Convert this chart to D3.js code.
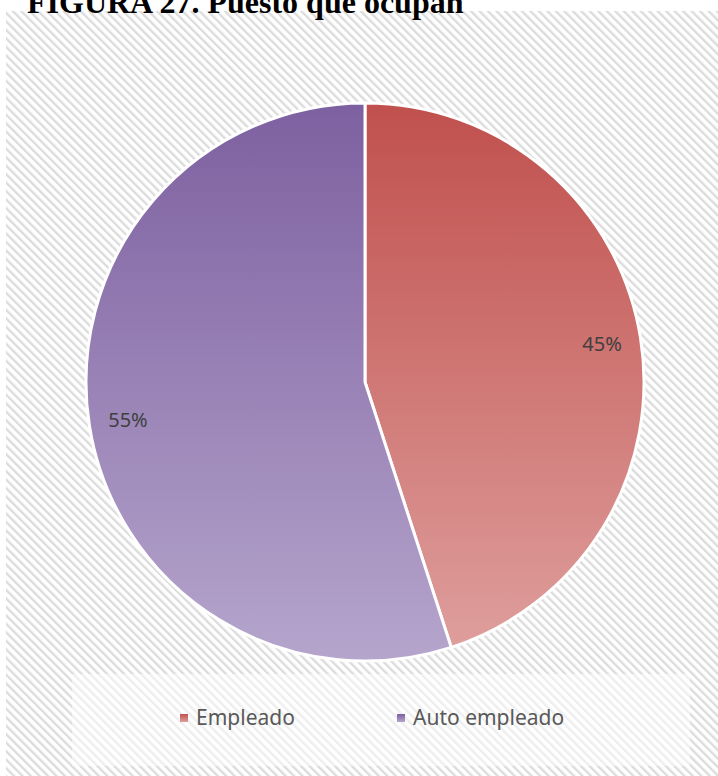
<!DOCTYPE html>
<html>
<head>
<meta charset="utf-8">
<script src="https://cdn.jsdelivr.net/npm/d3@7"></script>
<style>
  html, body { margin: 0; padding: 0; background: #ffffff; overflow: hidden; }
  svg { display: block; }
</style>
</head>
<body>
<script>
// Puesto que ocupan: share of respondents by job type
const categories = ["Empleado", "Auto empleado"];
const values = [45, 55];
const labels = ["45%", "55%"];
const titleText = "FIGURA 27. Puesto que ocupan";

const W = 718, H = 776;
const svg = d3.select("body").append("svg").attr("width", W).attr("height", H);
const defs = svg.append("defs");

// diagonal hatch used for the chart area background
const pat = defs.append("pattern")
  .attr("id", "hatch")
  .attr("patternUnits", "userSpaceOnUse")
  .attr("width", 6).attr("height", 6)
  .attr("patternTransform", "rotate(-45)");
pat.append("rect").attr("width", 6).attr("height", 6).attr("fill", "#ffffff");
pat.append("rect").attr("x", 0).attr("y", 0).attr("width", 2.4).attr("height", 6).attr("fill", "#dcdcdc");

// vertical gradients for the slices and legend keys
const gradStops = [
  { id: "g0", top: "#c0504d", bottom: "#de9e9c" },
  { id: "g1", top: "#7d60a0", bottom: "#b5a5cc" }
];
gradStops.forEach(g => {
  const lg = defs.append("linearGradient").attr("id", g.id)
    .attr("x1", 0).attr("y1", 0).attr("x2", 0).attr("y2", 1);
  lg.append("stop").attr("offset", "0%").attr("stop-color", g.top);
  lg.append("stop").attr("offset", "100%").attr("stop-color", g.bottom);
});

// chart area
svg.append("rect").attr("x", 6).attr("y", 11).attr("width", W - 6).attr("height", H - 11)
  .attr("fill", "url(#hatch)");

// title
svg.append("text")
  .attr("x", 27).attr("y", 13)
  .attr("font-family", "'Liberation Serif', 'Times New Roman', serif")
  .attr("font-weight", "bold")
  .attr("font-size", 32)
  .attr("fill", "#000")
  .text(titleText);

// pie
const cx = 365, cy = 382, R = 279;
const color = d3.scaleOrdinal().domain(categories).range(gradStops.map(g => `url(#${g.id})`));
const pie = d3.pie().sort(null).value(d => d.value);
const data = categories.map((c, i) => ({ name: c, value: values[i], label: labels[i] }));
const arcs = pie(data);
const arc = d3.arc().innerRadius(0).outerRadius(R);
const labelArc = d3.arc().innerRadius(240).outerRadius(240);

const g = svg.append("g").attr("transform", `translate(${cx},${cy})`);
g.selectAll("path").data(arcs).join("path")
  .attr("d", arc)
  .attr("fill", d => color(d.data.name))
  .attr("stroke", "#ffffff")
  .attr("stroke-width", 3)
  .attr("stroke-linejoin", "round");

g.selectAll("text.lbl").data(arcs).join("text")
  .attr("class", "lbl")
  .attr("transform", d => `translate(${labelArc.centroid(d)})`)
  .attr("text-anchor", "middle")
  .attr("dy", "0.35em")
  .attr("font-family", "'Noto Sans', 'Open Sans', sans-serif")
  .attr("font-size", 20)
  .attr("fill", "#404040")
  .text(d => d.data.label);

// legend
svg.append("rect").attr("x", 72).attr("y", 674).attr("width", 618).attr("height", 92)
  .attr("fill", "#ffffff").attr("fill-opacity", 0.5);

const legendX = [180, 397];
const lg = svg.append("g");
const items = lg.selectAll("g").data(data).join("g")
  .attr("transform", (d, i) => `translate(${legendX[i]},714)`);
items.append("rect").attr("width", 8).attr("height", 8)
  .attr("fill", d => color(d.name));
items.append("text").attr("x", 16).attr("y", 4).attr("dy", "0.35em")
  .attr("font-family", "'Noto Sans', 'Open Sans', sans-serif")
  .attr("font-size", 21)
  .attr("fill", "#595959")
  .text(d => d.name);
</script>
</body>
</html>
